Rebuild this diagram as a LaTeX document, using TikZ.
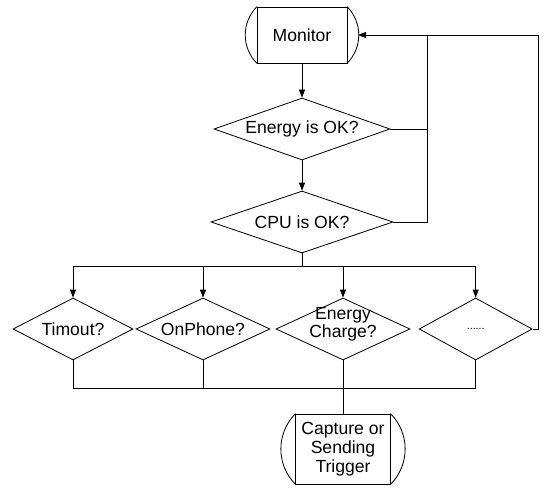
\documentclass[tikz,border=0pt]{standalone}
\usepackage{fontspec}
\setmainfont{Liberation Sans}
\usetikzlibrary{shapes.geometric,arrows.meta}
\tikzset{
    flow/.style={line width=0.7pt},
    decision/.style 2 args={diamond, draw, flow, inner sep=0pt, minimum width=#1, minimum height=1.86cm, aspect=#2},
    termbox/.style={rectangle, draw, flow, align=center, inner sep=0pt, outer xsep=0.33cm,
        append after command={
            ([xshift=0.33cm]\tikzlastnode.north west) edge[flow, bend right=45] ([xshift=0.33cm]\tikzlastnode.south west)
            ([xshift=-0.33cm]\tikzlastnode.north east) edge[flow, bend left=45] ([xshift=-0.33cm]\tikzlastnode.south east)
        }},
}
\begin{document}
\begin{tikzpicture}[>={Triangle[length=2.4mm,width=1.8mm]}, font=\fontsize{15}{16}\selectfont]
        \useasboundingbox (0,0) rectangle (16.32,-14.61);
        % top of the loop
        \node (monitor) at (9.06,-1.05) [termbox, minimum width=2.7cm, minimum height=1.68cm]{Monitor};
        \node (energy) at (9.06,-3.87) [decision={5.28cm}{2.84}]{Energy is OK?};
        \node (cpu) at (9.06,-6.66) [decision={5.46cm}{2.94}]{CPU is OK?};
        % the four checks
        \node (timout) at (2.19,-9.87) [decision={3.6cm}{1.94}]{Timout?};
        \node (onphone) at (6.09,-9.87) [decision={4.02cm}{2.16}]{OnPhone?};
        \node (charge) at (10.29,-9.87) [decision={4.02cm}{2.16}]{\smash{\begin{tabular}{@{}c@{}}Energy\\Charge?\end{tabular}}};
        \node (dots) at (14.27,-9.87) [decision={3.39cm}{1.82}, font=\fontsize{9}{10}\selectfont]{......};
        \node (capture) at (10.29,-13.47) [termbox, minimum width=2.85cm, minimum height=2.1cm]{Capture or\\Sending\\Trigger};
        \coordinate (split) at (9.06,-7.98);
        \coordinate (merge) at (10.29,-11.64);
        \coordinate (fb) at (12.81,-1.05);
        \coordinate (rim) at (16.14,-1.05);
        % connectors
        \draw[flow, ->] (monitor)--(energy);
        \draw[flow, ->] (energy)--(cpu);
        \draw[flow] (cpu.south)--(split);
        \foreach \n in {timout,onphone,charge,dots}
            { \draw[flow, ->] (split)-|(\n.north); }
        \foreach \n in {timout,onphone,charge,dots}
            { \draw[flow] (\n.south)|-(merge); }
        \draw[flow] (merge)--(capture.north);
        \draw[flow, ->] (energy.east)-|(fb)--(monitor.east);
        \draw[flow] (cpu.east)-|(fb);
        \draw[flow] (dots.east)-|(rim)--(fb);
    \end{tikzpicture}
\end{document}
